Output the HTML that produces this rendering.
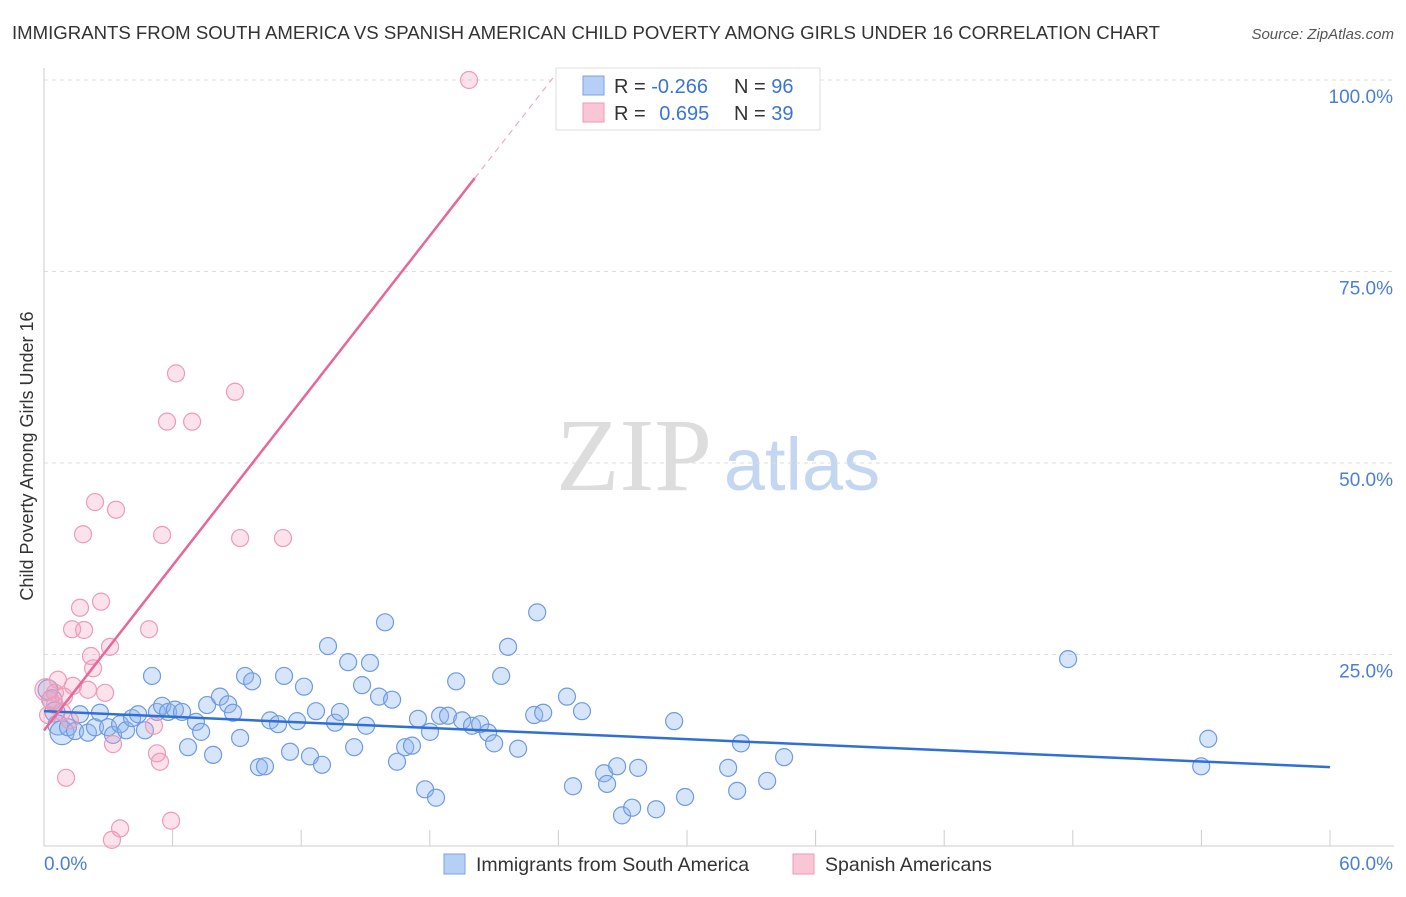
<!DOCTYPE html>
<html><head><meta charset="utf-8"><style>
body{margin:0;background:#fff;font-family:"Liberation Sans",sans-serif;}
svg text{font-family:"Liberation Sans",sans-serif;}
</style></head><body>
<svg id="chart" width="1406" height="892" viewBox="0 0 1406 892">
<text x="12" y="39" font-size="18.5" fill="#333" textLength="1148" lengthAdjust="spacingAndGlyphs">IMMIGRANTS FROM SOUTH AMERICA VS SPANISH AMERICAN CHILD POVERTY AMONG GIRLS UNDER 16 CORRELATION CHART</text>
<text x="1394" y="39" font-size="15" fill="#555" font-style="italic" text-anchor="end">Source: ZipAtlas.com</text>
<text transform="translate(33,456) rotate(-90)" font-size="18" fill="#333" text-anchor="middle">Child Poverty Among Girls Under 16</text>
<g><text x="634" y="490" font-size="104" fill="#ddd" text-anchor="middle" style="font-family:'Liberation Serif',serif">ZIP</text><text x="802" y="490" font-size="74" fill="#c5d7f0" text-anchor="middle">atlas</text></g>
<g id="grid"></g><g id="axes"></g><g id="pts"></g><g id="lines"></g>
<g>
<rect x="556" y="68" width="264" height="62" fill="#fff" stroke="#ddd"/>
<rect x="583" y="76" width="21" height="19" fill="#b6cff5" stroke="#7aa3e6"/>
<rect x="583" y="103" width="21" height="19" fill="#f9c6d6" stroke="#ee9ab8"/>
<text x="614" y="93" font-size="20" fill="#333">R = <tspan fill="#3a75d4">-0.266</tspan></text>
<text x="734" y="93" font-size="20" fill="#333">N = <tspan fill="#3a75d4">96</tspan></text>
<text x="614" y="120" font-size="20" fill="#333">R = <tspan fill="#3a75d4" dx="8">0.695</tspan></text>
<text x="734" y="120" font-size="20" fill="#333">N = <tspan fill="#3a75d4">39</tspan></text>
</g>
<g>
<rect x="444" y="854" width="21" height="20" fill="#b6cff5" stroke="#7aa3e6"/>
<text x="476" y="871" font-size="19.5" fill="#333">Immigrants from South America</text>
<rect x="793" y="854" width="21" height="20" fill="#f9c6d6" stroke="#ee9ab8"/>
<text x="825" y="871" font-size="19.5" fill="#333">Spanish Americans</text>
</g>
</svg>
<script>
const xTicks=[0,6,12,18,24,30,36,42,48,54,60];
const yTicks=[25,50,75,100];
const yTickLabels=["25.0%","50.0%","75.0%","100.0%"];
const xEndLabels=["0.0%","60.0%"];
const blueX=[0.19,0.37,0.51,0.65,0.84,1.12,1.45,1.68,2.05,2.38,2.61,2.99,3.22,3.55,3.83,4.11,4.39,4.71,5.04,5.27,5.51,5.79,6.11,6.44,6.72,7.09,7.33,7.61,7.89,8.21,8.59,8.82,9.15,9.38,9.71,10.03,10.31,10.55,10.92,11.2,11.48,11.81,12.13,12.41,12.69,12.97,13.25,13.58,13.81,14.19,14.47,14.84,15.03,15.21,15.63,15.91,16.24,16.47,16.85,17.17,17.45,17.78,18.01,18.29,18.48,18.85,19.23,19.51,19.97,20.35,20.72,21.0,21.33,21.65,22.12,22.87,23.01,23.29,24.4,24.68,25.1,26.13,26.27,26.74,26.97,27.44,27.72,28.56,29.4,29.91,31.92,32.34,32.52,33.74,34.53,47.78,53.99,54.32];
const blueY=[20.4,19.1,17.5,15.8,14.8,15.5,15.0,17.2,14.8,15.5,17.4,15.5,14.5,15.9,15.1,16.7,17.2,15.1,22.2,17.5,18.3,17.5,17.8,17.5,12.9,16.2,14.9,18.4,11.9,19.5,18.5,17.4,14.1,22.2,21.5,10.3,10.4,16.4,15.9,22.2,12.3,16.3,20.8,11.7,17.6,10.6,26.1,16.1,17.5,24.0,12.9,21.0,15.7,23.9,19.5,29.2,19.1,11.0,12.9,13.1,16.6,7.4,14.9,6.3,17.0,17.0,21.5,16.4,15.7,15.9,14.8,13.4,22.2,26.0,12.7,17.1,30.5,17.4,19.5,7.8,17.6,9.5,8.1,10.4,4.0,5.0,10.2,4.8,16.3,6.4,10.2,7.2,13.4,8.5,11.6,24.4,10.4,14.0];
const pinkX=[19.83,6.16,8.91,5.74,6.91,2.38,3.36,1.82,5.51,9.15,11.15,2.66,1.68,1.31,1.87,4.9,3.08,2.19,2.29,0.65,1.35,2.85,2.05,0.09,0.28,0.51,0.84,1.21,3.22,5.27,5.41,5.13,1.03,3.55,5.93,3.17,0.51,0.93,0.19];
const pinkY=[100,61.7,59.3,55.4,55.4,44.9,43.9,40.7,40.6,40.2,40.2,31.9,31.1,28.3,28.2,28.3,26.0,24.8,23.2,21.7,20.9,20.0,20.4,20.4,19.1,18.4,17.5,16.4,13.3,12.1,11.0,15.7,8.9,2.3,3.3,0.8,20.0,19.5,17.1];
const blueTrend=[17.6,10.3];
const pinkTrend=[15.1,3.587];
const pinkSolidEnd=20.1, pinkDashEnd=23.85;
const NS="http://www.w3.org/2000/svg";
const X0=44,X1=1330,Y0=846,Y100=80;
const sx=v=>X0+(v/60)*(X1-X0);
const sy=v=>Y0-(v/100)*(Y0-Y100);
function mk(tag,attrs,parent){const e=document.createElementNS(NS,tag);for(const k in attrs)e.setAttribute(k,attrs[k]);parent.appendChild(e);return e;}
const grid=document.getElementById('grid'),axes=document.getElementById('axes'),pts=document.getElementById('pts'),lines=document.getElementById('lines');
yTicks.forEach((t,i)=>{
 const l=mk('line',{x1:X0,x2:1394,y1:sy(t),y2:sy(t),stroke:'#ddd','stroke-dasharray':'4,4'},grid);
 
 
 const tx=mk('text',{x:1393,y:sy(t)+23,'font-size':19,fill:'#4a7fd6','text-anchor':'end'},axes);
 tx.textContent=yTickLabels[i];
 
 
});
const ax=mk('line',{x1:X0,x2:X0,y1:68,y2:Y0,stroke:'#ccc'},axes);


const bx=mk('line',{x1:X0,x2:1394,y1:Y0,y2:Y0,stroke:'#ccc'},axes);


xTicks.forEach(t=>{
 const l=mk('line',{x1:sx(t),x2:sx(t),y1:Y0-16,y2:Y0,stroke:'#ccc'},axes);
 
 
});
const xl0=mk('text',{x:44,y:870,'font-size':19,fill:'#4a7fd6'},axes);xl0.textContent=xEndLabels[0];


const xl1=mk('text',{x:1393,y:870,'font-size':19,fill:'#4a7fd6','text-anchor':'end'},axes);xl1.textContent=xEndLabels[1];


blueX.forEach((v,i)=>{
 const c=mk('circle',{cx:sx(v),cy:sy(blueY[i]),r:i<5?(i==4?12:10):8.5,fill:'rgba(140,180,240,0.35)',stroke:'#6f9be0','stroke-width':1.2},pts);
 
 
});
pinkX.forEach((v,i)=>{
 const c=mk('circle',{cx:sx(v),cy:sy(pinkY[i]),r:i==23?11:8.5,fill:'rgba(245,160,190,0.3)',stroke:'#ee9ab8','stroke-width':1.2},pts);
 
 
});
const bl=mk('line',{x1:sx(0),y1:sy(blueTrend[0]),x2:sx(60),y2:sy(blueTrend[1]),stroke:'#2f6fd6','stroke-width':2.5},lines);


const pf=x=>pinkTrend[0]+pinkTrend[1]*x;
const pl=mk('line',{x1:sx(0),y1:sy(pf(0)),x2:sx(pinkSolidEnd),y2:sy(pf(pinkSolidEnd)),stroke:'#e8679a','stroke-width':2.5},lines);


const pd=mk('line',{x1:sx(pinkSolidEnd),y1:sy(pf(pinkSolidEnd)),x2:sx(pinkDashEnd),y2:sy(pf(pinkDashEnd)),stroke:'#eeaac4','stroke-width':1.2,'stroke-dasharray':'6,5'},lines);


</script>
</body></html>
